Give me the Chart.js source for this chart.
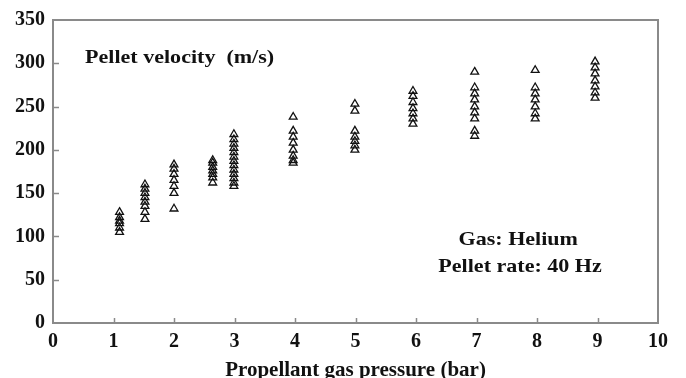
<!DOCTYPE html>
<html>
<head>
<meta charset="utf-8">
<script src="https://cdn.jsdelivr.net/npm/chart.js@4.4.1/dist/chart.umd.min.js"></script>
<style>
  html, body { margin: 0; padding: 0; background: #fff; }
  #wrap { width: 686px; height: 378px; }
</style>
</head>
<body>
<div id="wrap"><canvas id="velocity"></canvas></div>
<script>
// pressure (bar) for each measured group, and the velocities (m/s) at that pressure
const pressures = [1.1, 1.52, 2.0, 2.64, 2.99, 3.97, 4.99, 5.95, 6.97, 7.97, 8.96];
const velocities = [
  [105, 110, 115, 118, 122, 128],
  [120, 128, 135, 140, 145, 150, 155, 160],
  [132, 150, 158, 165, 172, 178, 183],
  [162, 168, 172, 176, 180, 185, 188],
  [158, 162, 167, 172, 177, 182, 187, 192, 197, 202, 207, 212, 218],
  [185, 188, 193, 200, 208, 215, 222, 238],
  [200, 205, 210, 215, 222, 245, 253],
  [230, 236, 242, 248, 255, 262, 268],
  [216, 222, 236, 243, 250, 258, 265, 272, 290],
  [236, 242, 250, 258, 265, 272, 292],
  [260, 266, 273, 280, 288, 295, 302]
];
const xTicks = [0, 1, 2, 3, 4, 5, 6, 7, 8, 9, 10];
const yTicks = [0, 50, 100, 150, 200, 250, 300, 350];
const notes = [
  { text: 'Pellet velocity  (m/s)', x: 0.53, y: 306, align: 'left' },
  { text: 'Gas: Helium', x: 7.69, y: 96, align: 'center' },
  { text: 'Pellet rate: 40 Hz', x: 7.72, y: 65, align: 'center' }
];

const points = [];
pressures.forEach((p, i) => {
  velocities[i].forEach(v => points.push({ x: p, y: v }));
});

const serif = '"Liberation Serif", "DejaVu Serif", serif';
const axisGray = '#8a8a8a';

// box round the plot plus short inward tick marks and the text notes
const framePlugin = {
  id: 'frame',
  afterDraw(chart) {
    const { ctx, chartArea: a, scales } = chart;
    ctx.save();
    ctx.strokeStyle = axisGray;
    ctx.lineWidth = 2;
    ctx.strokeRect(a.left, a.top, a.right - a.left, a.bottom - a.top);
    ctx.lineWidth = 1.5;
    ctx.beginPath();
    xTicks.slice(1, -1).forEach(t => {
      const px = Math.round(scales.x.getPixelForValue(t)) + 0.5;
      ctx.moveTo(px, a.bottom);
      ctx.lineTo(px, a.bottom - 5);
    });
    yTicks.slice(1, -1).forEach(t => {
      const py = Math.round(scales.y.getPixelForValue(t)) + 0.5;
      ctx.moveTo(a.left, py);
      ctx.lineTo(a.left + 6, py);
    });
    ctx.stroke();
    ctx.fillStyle = '#111';
    ctx.font = 'bold 19px ' + serif;
    ctx.textBaseline = 'middle';
    notes.forEach(n => {
      // the lettering is set a little wide
      const px = scales.x.getPixelForValue(n.x);
      const py = scales.y.getPixelForValue(n.y);
      ctx.save();
      ctx.translate(px, py);
      ctx.scale(1.16, 1);
      ctx.textAlign = n.align;
      ctx.fillText(n.text, 0, 0);
      ctx.restore();
    });
    ctx.restore();
  }
};

new Chart(document.getElementById('velocity'), {
  type: 'scatter',
  data: {
    datasets: [{
      data: points,
      pointStyle: 'triangle',
      pointRadius: 4.5,
      borderColor: '#111',
      backgroundColor: 'rgba(255,255,255,0)',
      borderWidth: 1.3
    }]
  },
  options: {
    responsive: true,
    maintainAspectRatio: false,
    animation: false,
    layout: { padding: { top: 20, right: 28, left: 0, bottom: 0 } },
    plugins: { legend: { display: false }, tooltip: { enabled: false } },
    scales: {
      x: {
        type: 'linear',
        min: 0,
        max: 10,
        afterBuildTicks: s => { s.ticks = xTicks.map(v => ({ value: v })); },
        afterFit: s => { s.height = 55; },
        grid: { display: false, drawTicks: false },
        border: { display: false },
        ticks: { color: '#111', padding: 7, font: { family: serif, weight: 'bold', size: 20 } },
        title: {
          display: true,
          text: 'Propellant gas pressure (bar)',
          color: '#111',
          padding: { top: 0, bottom: -5 },
          font: { family: serif, weight: 'bold', size: 21 }
        }
      },
      y: {
        type: 'linear',
        min: 0,
        max: 350,
        afterBuildTicks: s => { s.ticks = yTicks.map(v => ({ value: v })); },
        afterFit: s => { s.width = 53; },
        grid: { display: false, drawTicks: false },
        border: { display: false },
        ticks: { color: '#111', padding: 8, font: { family: serif, weight: 'bold', size: 20 } }
      }
    }
  },
  plugins: [framePlugin]
});
</script>
</body>
</html>
